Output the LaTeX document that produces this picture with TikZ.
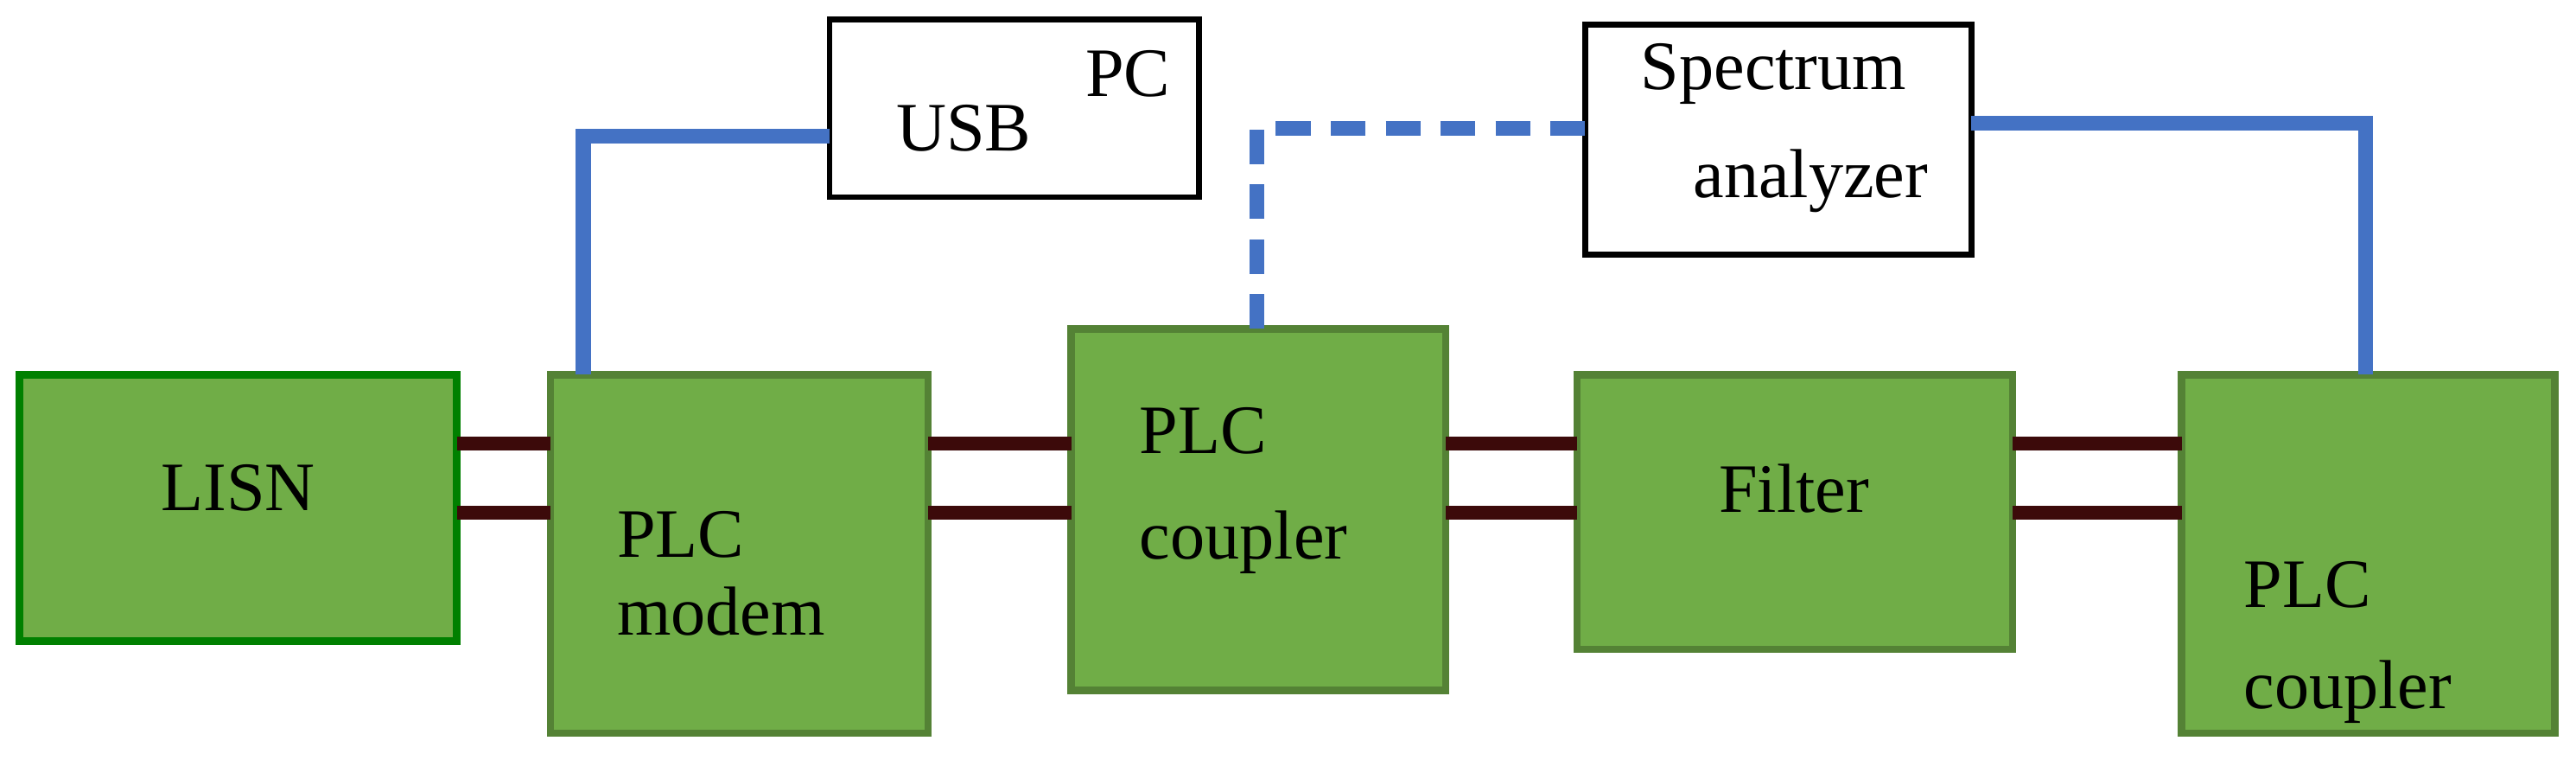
\documentclass[tikz,border=0pt]{standalone}
\usepackage{fontspec}
\setmainfont{Liberation Serif}
\begin{document}
\begin{tikzpicture}[x=0.01cm,y=-0.01cm,
  txt/.style={font=\fontsize{12}{14}\selectfont,anchor=west,inner sep=0}]
\definecolor{gfill}{RGB}{112,173,71}
\definecolor{gdraw}{RGB}{84,130,53}
\definecolor{bl}{RGB}{68,114,196}
\definecolor{dr}{RGB}{60,10,10}
\tikzset{blk/.style={draw=gdraw,fill=gfill,line width=1.3pt},
  gbox/.style={draw=black,fill=white,line width=1pt},
  blue/.style={draw=bl,line width=2.6pt},wire/.style={draw=dr,line width=2.4pt}}
\useasboundingbox (0,0) rectangle (1568,462);
% boxes
\draw[blk,draw=green!50!black] (12,228) rectangle (278,390);
\draw[blk] (335,228) rectangle (565,446);
\draw[blk] (652,200) rectangle (880,420);
\draw[blk] (960,228) rectangle (1225,395);
\draw[blk] (1328,228) rectangle (1555,446);
\draw[gbox] (505,12) rectangle (730,120);
\draw[gbox] (965,15) rectangle (1200,155);
% wires
\foreach \y in {270,312}{
 \draw[wire] (278,\y) -- (335,\y);
 \draw[wire] (565,\y) -- (652,\y);
 \draw[wire] (880,\y) -- (960,\y);
 \draw[wire] (1225,\y) -- (1328,\y);}
% blue
\draw[blue] (355,228) -- (355,83) -- (505,83);
\draw[blue,dash pattern=on 6pt off 3.5pt] (765,200) -- (765,78) -- (965,78);
\draw[blue] (1200,75) -- (1440,75) -- (1440,228);
% text
\node[txt,anchor=center] (t1) at (145,297) {LISN};
\node[txt] (t2) at (375,325) {PLC};
\node[txt] (t3) at (375,372) {modem};
\node[txt] (t4) at (693,262) {PLC};
\node[txt] (t5) at (693,330) {coupler};
\node[txt,anchor=center] (t6) at (1092,297) {Filter};
\node[txt] (t7) at (1365,356) {PLC};
\node[txt] (t8) at (1365,421) {coupler};
\node[txt] (t9) at (545,78) {USB};
\node[txt] (t10) at (660,45) {PC};
\node[txt] (t11) at (998,45) {Spectrum};
\node[txt] (t12) at (1030,110) {analyzer};
\end{tikzpicture}
\end{document}
